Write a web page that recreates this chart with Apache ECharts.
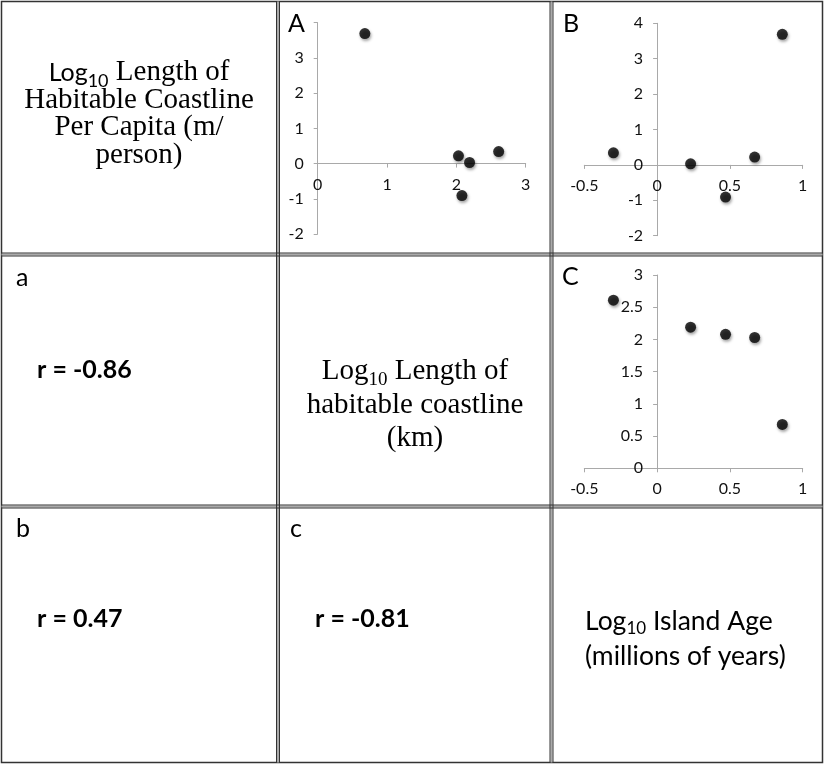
<!DOCTYPE html>
<html>
<head>
<meta charset="utf-8">
<script src="https://cdn.jsdelivr.net/npm/echarts@6/dist/echarts.min.js"></script>
<style>
html,body{margin:0;padding:0;background:#fff;}
#chart{width:825px;height:771px;}
</style>
</head>
<body>
<div id="chart"></div>
<script>
// Data (log10 values for five islands)
const islandAge = [-0.30, 0.23, 0.47, 0.67, 0.86];      // Log10 island age (My)
const coastline = [2.61, 2.19, 2.08, 2.03, 0.68];       // Log10 habitable coastline (km)
const perCapita = [0.34, 0.03, -0.91, 0.22, 3.69];      // Log10 coastline per capita (m/person)
const correlations = ['r = -0.86', 'r = 0.47', 'r = -0.81'];
const panelLetters = ['A', 'B', 'C'];
const cellLetters = ['a', 'b', 'c'];

function pairs(xs, ys) { return xs.map((x, i) => [x, ys[i]]); }

const chart = echarts.init(document.getElementById('chart'), null, {renderer: 'canvas'});

const axisGray = '#a9a9a9';

// grid boxes (layout)
const grids = [
  {left: 317.7, top: 22.7, width: 208, height: 211.3},
  {left: 584.3, top: 23.3, width: 218.4, height: 212.4},
  {left: 584.3, top: 275, width: 218.4, height: 193.3}
];
const yRanges = [[-2, 4, 1], [-2, 4, 1], [0, 3, 0.5]];
const xRanges = [[0, 3, 1], [-0.5, 1, 0.5], [-0.5, 1, 0.5]];

function xAx(g) {
  const yr = yRanges[g];
  // place the x axis line where y = 0
  const zeroOffset = -(0 - yr[0]) / (yr[1] - yr[0]) * grids[g].height;
  return {
    gridIndex: g, type: 'value', min: xRanges[g][0], max: xRanges[g][1], interval: xRanges[g][2],
    position: 'bottom', offset: zeroOffset,
    splitLine: {show: false},
    axisLine: {show: true, onZero: false, lineStyle: {color: axisGray, width: 1}},
    axisTick: {show: true, inside: false, length: 4, lineStyle: {color: axisGray}},
    axisLabel: {margin: 13, fontFamily: 'Lato', fontSize: 16, color: '#111'}
  };
}
function yAx(g) {
  const yr = yRanges[g];
  const xr = xRanges[g];
  // place the y axis line where x = 0
  const zeroOffset = -(0 - xr[0]) / (xr[1] - xr[0]) * grids[g].width;
  return {
    gridIndex: g, type: 'value', min: yr[0], max: yr[1], interval: yr[2],
    position: 'left', offset: zeroOffset,
    splitLine: {show: false},
    axisLine: {show: true, onZero: false, lineStyle: {color: axisGray, width: 1}},
    axisTick: {show: true, inside: false, length: 4, lineStyle: {color: axisGray}},
    axisLabel: {margin: 14, fontFamily: 'Lato', fontSize: 16, color: '#111'}
  };
}

const dotStyle = {
  color: '#000',
  shadowBlur: 3, shadowColor: 'rgba(0,0,0,0.45)', shadowOffsetX: 1, shadowOffsetY: 2
};

function scatter(idx, data) {
  return {type: 'scatter', xAxisIndex: idx, yAxisIndex: idx, data: data,
    symbol: 'circle', symbolSize: 11, itemStyle: dotStyle, silent: true};
}

// Borders
const borderColor = '#333';
function dbl(x1, y1, x2, y2, vertical) {
  const els = [];
  const off = 1.5;
  els.push({type: 'line', shape: {x1: x1, y1: y1, x2: x2, y2: y2},
    style: {stroke: '#aaa', lineWidth: 2}, z: 100});
  if (vertical) {
    els.push({type: 'line', shape: {x1: x1 - off, y1: y1, x2: x2 - off, y2: y2}, style: {stroke: borderColor, lineWidth: 1}, z: 101});
    els.push({type: 'line', shape: {x1: x1 + off, y1: y1, x2: x2 + off, y2: y2}, style: {stroke: borderColor, lineWidth: 1}, z: 101});
  } else {
    els.push({type: 'line', shape: {x1: x1, y1: y1 - off, x2: x2, y2: y2 - off}, style: {stroke: borderColor, lineWidth: 1}, z: 101});
    els.push({type: 'line', shape: {x1: x1, y1: y1 + off, x2: x2, y2: y2 + off}, style: {stroke: borderColor, lineWidth: 1}, z: 101});
  }
  return els;
}

const serif = 'Liberation Serif';
const sans = 'Lato';

const graphics = [
  {type: 'rect', shape: {x: 1.5, y: 1.5, width: 821, height: 761}, style: {fill: 'none', stroke: borderColor, lineWidth: 1.5}, z: 100}
].concat(
  dbl(278, 1.5, 278, 762.5, true),
  dbl(551.5, 1.5, 551.5, 762.5, true),
  dbl(1.5, 254.5, 822.5, 254.5, false),
  dbl(1.5, 506.5, 822.5, 506.5, false)
).concat([
  // Cell (0,0) label
  {type: 'text', x: 139, y: 59, z: 50, style: {
    text: '{sl|Log}{ss|10}{s| Length of}\n{s|Habitable Coastline}\n{s|Per Capita (m/}\n{s|person)}',
    align: 'center', verticalAlign: 'top', fill: '#000',
    rich: {
      s: {fontFamily: serif, fontSize: 29, lineHeight: 27.5, fill: '#000'},
      sl: {fontFamily: sans, fontSize: 25, lineHeight: 27.5, fill: '#000'},
      ss: {fontFamily: sans, fontSize: 18, lineHeight: 27.5, padding: [16, 0, 0, 0], fill: '#000'}
    }
  }},
  // Cell (1,1) label
  {type: 'text', x: 415, y: 355, z: 50, style: {
    text: '{s|Log}{ss|10}{s| Length of}\n{s|habitable coastline}\n{s|(km)}',
    align: 'center', verticalAlign: 'top', fill: '#000',
    rich: {
      s: {fontFamily: serif, fontSize: 29, lineHeight: 33.5, fill: '#000'},
      ss: {fontFamily: serif, fontSize: 19, lineHeight: 33.5, padding: [16, 0, 0, 0], fill: '#000'}
    }
  }},
  // Cell (2,2) label
  {type: 'text', x: 585, y: 604, z: 50, style: {
    text: '{t|Log}{ts|10}{t| Island Age}\n{t|(millions of years)}',
    align: 'left', verticalAlign: 'top', fill: '#000',
    rich: {
      t: {fontFamily: sans, fontSize: 26.5, lineHeight: 35, fill: '#000'},
      ts: {fontFamily: sans, fontSize: 17, lineHeight: 35, padding: [15, 0, 0, 0], fill: '#000'}
    }
  }},
  // Correlations
  {type: 'text', x: 37, y: 370, z: 50, style: {text: correlations[0], fontFamily: sans, fontWeight: 'bold', fontSize: 25, fill: '#000', align: 'left', verticalAlign: 'middle'}},
  {type: 'text', x: 37, y: 619, z: 50, style: {text: correlations[1], fontFamily: sans, fontWeight: 'bold', fontSize: 25, fill: '#000', align: 'left', verticalAlign: 'middle'}},
  {type: 'text', x: 315, y: 619, z: 50, style: {text: correlations[2], fontFamily: sans, fontWeight: 'bold', fontSize: 25, fill: '#000', align: 'left', verticalAlign: 'middle'}},
  // Cell letters
  {type: 'text', x: 16, y: 278, z: 50, style: {text: cellLetters[0], fontFamily: sans, fontSize: 25, fill: '#000', align: 'left', verticalAlign: 'middle'}},
  {type: 'text', x: 16, y: 529, z: 50, style: {text: cellLetters[1], fontFamily: sans, fontSize: 25, fill: '#000', align: 'left', verticalAlign: 'middle'}},
  {type: 'text', x: 290, y: 529, z: 50, style: {text: cellLetters[2], fontFamily: sans, fontSize: 25, fill: '#000', align: 'left', verticalAlign: 'middle'}},
  // Panel letters
  {type: 'text', x: 288, y: 24, z: 50, style: {text: panelLetters[0], fontFamily: sans, fontSize: 25, fill: '#000', align: 'left', verticalAlign: 'middle', backgroundColor: '#fff', padding: [0, 2, 0, 0]}},
  {type: 'text', x: 563, y: 24, z: 50, style: {text: panelLetters[1], fontFamily: sans, fontSize: 25, fill: '#000', align: 'left', verticalAlign: 'middle'}},
  {type: 'text', x: 562, y: 277, z: 50, style: {text: panelLetters[2], fontFamily: sans, fontSize: 25, fill: '#000', align: 'left', verticalAlign: 'middle'}}
]);

const option = {
  animation: false,
  backgroundColor: '#fff',
  grid: grids,
  xAxis: [xAx(0), xAx(1), xAx(2)],
  yAxis: [yAx(0), yAx(1), yAx(2)],
  series: [
    scatter(0, pairs(coastline, perCapita)),
    scatter(1, pairs(islandAge, perCapita)),
    scatter(2, pairs(islandAge, coastline))
  ],
  graphic: graphics
};
chart.setOption(option);
</script>
</body>
</html>
